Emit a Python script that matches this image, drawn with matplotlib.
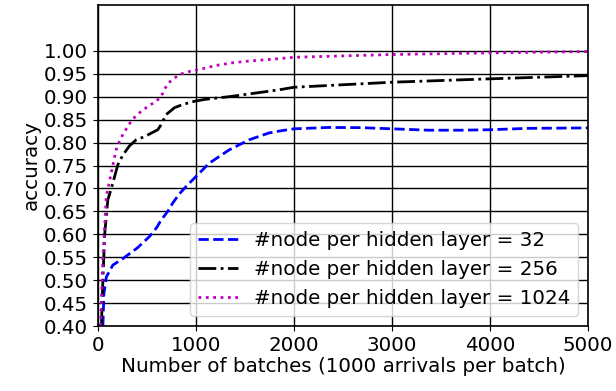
import matplotlib
matplotlib.use("Agg")
import matplotlib.pyplot as plt

# data
x32 = [50, 60, 85, 152, 254, 400, 525, 600, 644, 712, 762, 830, 898, 1000, 1135, 1338, 1542, 1745, 1846, 2000, 2355, 2692, 3000, 3371, 3710, 4000, 4387, 5000]
y32 = [0.40, 0.47, 0.507, 0.533, 0.547, 0.57, 0.595, 0.615, 0.631, 0.65, 0.668, 0.688, 0.704, 0.726, 0.755, 0.784, 0.806, 0.821, 0.825, 0.830, 0.833, 0.8325, 0.830, 0.827, 0.827, 0.828, 0.831, 0.832]

x256 = [35, 45, 50, 68, 100, 136, 203, 254, 322, 390, 475, 610, 644, 695, 780, 864, 983, 1085, 1373, 1846, 2000, 3000, 4000, 5000]
y256 = [0.40, 0.47, 0.50, 0.60, 0.675, 0.70, 0.752, 0.773, 0.793, 0.806, 0.813, 0.828, 0.839, 0.861, 0.876, 0.883, 0.89, 0.894, 0.901, 0.915, 0.9206, 0.9316, 0.939, 0.946]

x1024 = [25, 34, 50, 68, 85, 102, 153, 186, 220, 254, 295, 339, 390, 458, 525, 593, 644, 678, 719, 780, 854, 932, 1000, 1085, 1200, 1373, 1500, 1846, 2000, 3000, 4000, 5000]
y1024 = [0.40, 0.45, 0.55, 0.617, 0.683, 0.70, 0.752, 0.785, 0.803, 0.818, 0.832, 0.847, 0.859, 0.871, 0.881, 0.89, 0.90, 0.916, 0.93, 0.941, 0.95, 0.955, 0.958, 0.962, 0.968, 0.974, 0.977, 0.983, 0.986, 0.992, 0.9956, 0.9985]

labels = ["#node per hidden layer = 32",
          "#node per hidden layer = 256",
          "#node per hidden layer = 1024"]
xticks = [0, 1000, 2000, 3000, 4000, 5000]
yticks = [0.40, 0.45, 0.50, 0.55, 0.60, 0.65, 0.70, 0.75, 0.80, 0.85, 0.90, 0.95, 1.00]

plt.rcParams['font.family'] = ['DejaVu Sans']
plt.rcParams['font.size'] = 14.3

fig = plt.figure(figsize=(6.16, 3.91), dpi=100)
ax = fig.add_axes([98/616, 1-326/391, 490/616, 321/391])

ax.plot(x32, y32, color='blue', linestyle='--', linewidth=2, label=labels[0])
ax.plot(x256, y256, color='black', linestyle='-.', linewidth=2, label=labels[1])
ax.plot(x1024, y1024, color='m', linestyle=':', linewidth=2, label=labels[2])

ax.set_xlim(0, 5000)
ax.set_ylim(0.40, 1.10)
ax.set_xticks(xticks)
ax.set_yticks(yticks)
ax.set_yticklabels([f"{v:.2f}" for v in yticks])
ax.grid(True, color='black', linewidth=1)
ax.set_axisbelow(True)
for s in ax.spines.values():
    s.set_linewidth(1.2)
ax.set_xlabel("Number of batches (1000 arrivals per batch)", labelpad=2)
ax.set_ylabel("accuracy", labelpad=2)
ax.legend(loc='lower right', borderaxespad=0.5, handlelength=2.0,
          labelspacing=0.5, borderpad=0.4)

fig.savefig("out.png", dpi=100)
